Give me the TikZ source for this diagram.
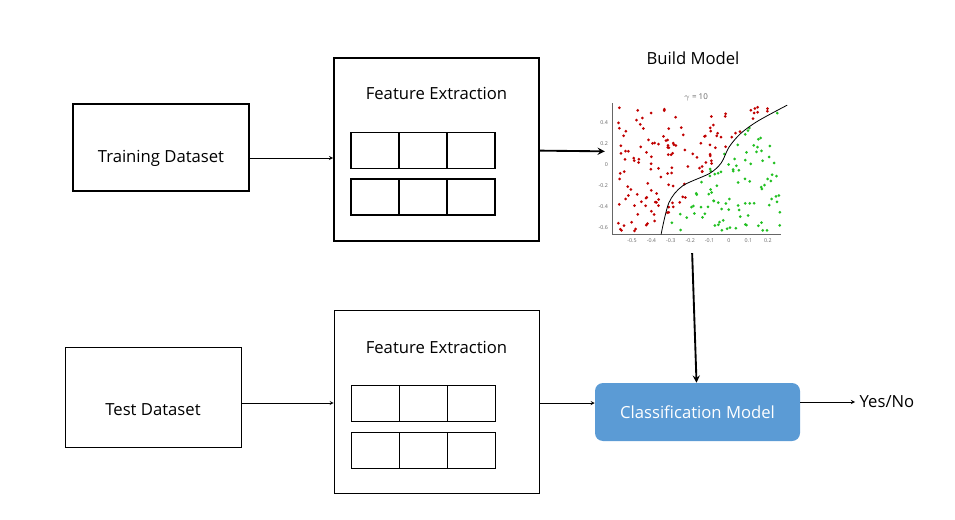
\documentclass[tikz,border=0pt]{standalone}
\usepackage{fontspec}
\setmainfont{Open Sans}
\usetikzlibrary{shapes.geometric,positioning}
\definecolor{modelblue}{HTML}{5B9BD5}
\definecolor{ptred}{HTML}{C00000}
\definecolor{ptgreen}{HTML}{22C022}
\tikzset{
  lbl/.style={font=\fontsize{12.5}{15}\selectfont},
  db/.style={cylinder, shape border rotate=90, aspect=0.3, draw,
             minimum width=176*0.75pt, inner sep=0pt},
  fbox/.style={draw, minimum width=205*0.75pt, minimum height=183*0.75pt},
  cell/.style={draw, minimum width=48*0.75pt, minimum height=36*0.75pt, inner sep=0pt},
  flow/.style={->, >=stealth},
  tick/.style={font=\fontsize{4}{4}\selectfont, text=black!60}
}
\begin{document}
\begin{tikzpicture}[x=0.75pt, y=-0.75pt]
\useasboundingbox (0,0) rectangle (955,520);

% Datasets
\node[db, line width=1.4pt, minimum height=87*0.75pt] (train) at (161,148) {};
\node[lbl] (trainlbl) at (161,158) {Training Dataset};
\node[db, minimum height=100*0.75pt] (test) at (153,397) {};
\node[lbl] (testlbl) at (153,410) {Test Dataset};

% Feature extraction boxes
\node[fbox, line width=1.4pt] (fe1) at (436.5,149.5) {};
\node[fbox] (fe2) at (436.5,401.5) {};
\node[lbl] at (436.5,93) {Feature Extraction};
\node[lbl] at (436.5,347) {Feature Extraction};
\foreach \r/\y in {a/150.5,b/197} {
  \foreach \c/\x in {1/375,2/423.5,3/471}
    \node[cell, line width=1.4pt] (t\r\c) at (\x,\y) {};
}
\foreach \r/\y in {a/403,b/450} {
  \foreach \c/\x in {1/375,2/423.5,3/471}
    \node[cell] (s\r\c) at (\x,\y) {};
}

% Model
\node[lbl] (build) at (693,58) {Build Model};
\node[rounded corners=6pt, fill=modelblue, text=white, lbl,
      minimum width=205*0.75pt, minimum height=58*0.75pt] (clf) at (697.5,412) {Classification Model};
\node[lbl, anchor=west] (yes) at (855,402) {Yes/No};

% Scatter plot
\begin{scope}[shift={(729,165)}, x={(194*0.75pt,0)}, y={(0,105*0.75pt)}]
  \draw[black!60, line width=0.3pt] (-0.6,0.59) -- (-0.6,-0.66) -- (0.27,-0.66);
  \foreach \v in {-0.5,-0.4,-0.3,-0.2,-0.1,0,0.1,0.2}
    \node[tick, below] at (\v,-0.66) {\v};
  \foreach \v in {-0.6,-0.4,-0.2,0,0.2,0.4}
    \node[tick, left] at (-0.6,\v) {\v};
  \node[tick, font=\fontsize{6}{6}\selectfont] at (-0.17,0.64) {$\gamma$ = 10};
  \pgfmathsetseed{11}
  \foreach \i in {1,...,230} {
    \pgfmathsetmacro\px{-0.57+0.84*rnd}
    \pgfmathsetmacro\py{-0.63+1.18*rnd}
    \pgfmathsetmacro\fx{\py<-0.12 ? -0.15+0.396*(\py+0.12) : (\py<0.3 ? -0.15+0.476*(\py+0.12) : 0.05+0.75*(\py-0.3))}
    \pgfmathsetmacro\isred{\px<\fx ? 1 : 0}
    \ifdim\isred pt>0.5pt
      \fill[ptred] (\px,\py) circle (1.5*0.75pt);
    \else
      \fill[ptgreen] (\px,\py) circle (1.5*0.75pt);
    \fi
  }
  \draw[line width=0.6pt] plot[smooth] coordinates {(-0.35,-0.66) (-0.31,-0.36) (-0.24,-0.2) (-0.1,-0.08) (-0.04,0.02) (0,0.17) (0.06,0.3) (0.15,0.42) (0.3,0.57)};
  \coordinate (plotin) at (-0.64,0.13);
  \coordinate (plotout) at (-0.19,-0.84);
\end{scope}

% Connectors
\draw[flow] (train.east |- trainlbl.west) -- (fe1.west |- trainlbl.west);
\draw[flow, line width=1.4pt] (fe1) -- (plotin);
\draw[flow, line width=1.4pt] (plotout) -- (clf);
\draw[flow] (test.east |- sa2) -- (fe2.west |- sa2);
\draw[flow] (fe2.east |- sa2) -- (clf.west |- sa2);
\draw[flow] (clf.east |- yes) -- (yes);
\end{tikzpicture}
\end{document}
